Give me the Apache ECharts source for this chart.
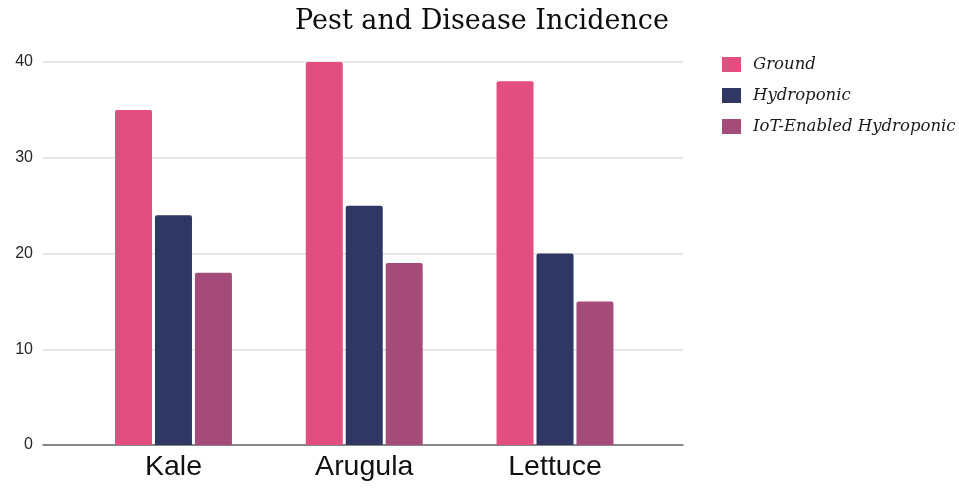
<!DOCTYPE html>
<html>
<head>
<meta charset="utf-8">
<script src="https://cdn.jsdelivr.net/npm/echarts@6/dist/echarts.min.js"></script>
<style>
  html, body { margin: 0; padding: 0; background: #ffffff; }
  #chart { width: 959px; height: 488px; }
</style>
</head>
<body>
<div id="chart"></div>
<script>
// Crops compared across growing systems
const categories = ['Kale', 'Arugula', 'Lettuce'];
const seriesNames = ['Ground', 'Hydroponic', 'IoT-Enabled Hydroponic'];
const groundValues = [35, 40, 38];
const hydroponicValues = [24, 25, 20];
const iotValues = [18, 19, 15];
const yTicks = [0, 10, 20, 30, 40];

const colors = ['#e34e80', '#2f3763', '#a54b79'];

// Each crop sits at an integer position on the horizontal axis
const toPoints = vals => vals.map((v, i) => [i, v]);

const chart = echarts.init(document.getElementById('chart'), null, { renderer: 'canvas' });

const barStyle = (c) => ({ color: c, borderRadius: [2, 2, 0, 0] });

chart.setOption({
  backgroundColor: '#ffffff',
  animation: false,
  title: {
    text: 'Pest and Disease Incidence',
    left: 477,
    textAlign: 'center',
    top: 3,
    textStyle: {
      fontFamily: 'DejaVu Serif',
      fontWeight: 'normal',
      fontSize: 27,
      color: '#0d0d0d'
    }
  },
  legend: {
    orient: 'vertical',
    left: 717,
    top: 51,
    itemWidth: 19,
    itemHeight: 15,
    itemGap: 14,
    icon: 'rect',
    data: seriesNames,
    textStyle: {
      fontFamily: 'DejaVu Serif',
      fontStyle: 'italic',
      fontSize: 16.5,
      color: '#1a1a1a',
      padding: [0, 0, 0, 7]
    }
  },
  grid: {
    left: 43,
    right: 276,
    top: 62,
    bottom: 43,
    containLabel: false
  },
  xAxis: {
    type: 'value',
    min: -0.684,
    max: 2.671,
    axisLine: { show: true, lineStyle: { color: '#666666', width: 1.5 } },
    axisTick: { show: false },
    splitLine: { show: false },
    axisLabel: {
      customValues: [0, 1, 2],
      formatter: v => categories[Math.round(v)],
      fontFamily: 'Liberation Sans',
      fontSize: 28.5,
      color: '#111111',
      margin: 8
    }
  },
  yAxis: {
    type: 'value',
    min: yTicks[0],
    max: yTicks[yTicks.length - 1],
    interval: 10,
    axisLine: { show: false },
    axisTick: { show: false },
    splitLine: { lineStyle: { color: '#e2e2e2', width: 1.5 } },
    axisLabel: {
      fontFamily: 'Liberation Sans',
      fontSize: 16,
      color: '#262626',
      margin: 10
    }
  },
  series: [
    {
      name: seriesNames[0],
      type: 'bar',
      data: toPoints(groundValues),
      barWidth: 37,
      barGap: '8%',
      itemStyle: barStyle(colors[0])
    },
    {
      name: seriesNames[1],
      type: 'bar',
      data: toPoints(hydroponicValues),
      barWidth: 37,
      barGap: '8%',
      itemStyle: barStyle(colors[1])
    },
    {
      name: seriesNames[2],
      type: 'bar',
      data: toPoints(iotValues),
      barWidth: 37,
      barGap: '8%',
      itemStyle: barStyle(colors[2])
    }
  ]
});
</script>
</body>
</html>
